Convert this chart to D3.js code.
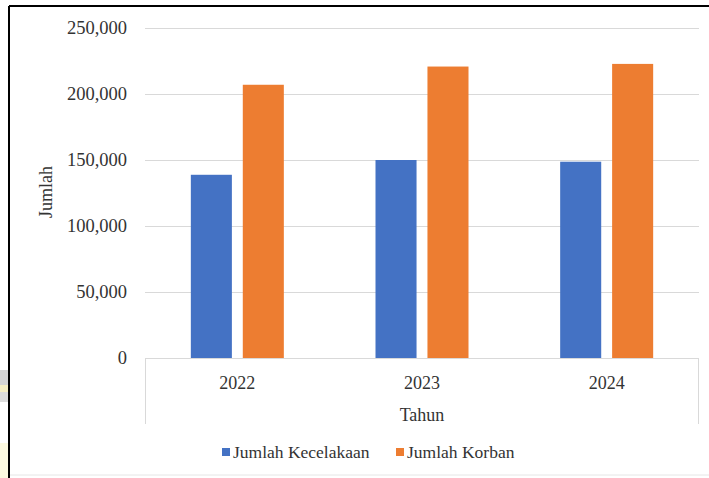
<!DOCTYPE html>
<html>
<head>
<meta charset="utf-8">
<script src="https://cdn.jsdelivr.net/npm/d3@7"></script>
<style>
  html, body { margin: 0; padding: 0; background: #fff; }
  svg { display: block; }
  text { font-family: "Liberation Serif", "Times New Roman", serif; fill: #333; }
</style>
</head>
<body>
<div class="d3"></div>
<script>
  // data
  const years = ['2022', '2023', '2024'];
  const series = ['Jumlah Kecelakaan', 'Jumlah Korban'];
  const kecelakaan = [138800, 150000, 148700];
  const korban = [207000, 220800, 222800];
  const yTicks = [0, 50000, 100000, 150000, 200000, 250000];
  const colors = ['#4472C4', '#ED7D31'];

  (() => {
    let width = 709;
    let height = 478;

    let svg = d3.select('.d3')
      .append('svg')
      .attr('width', width)
      .attr('height', height);

    // page leftovers outside the frame
    svg.append('rect').attr('x', 0).attr('y', 370).attr('width', 9).attr('height', 15).attr('fill', '#d4d4d4');
    svg.append('rect').attr('x', 0).attr('y', 385).attr('width', 9).attr('height', 7).attr('fill', '#f5eec4');
    svg.append('rect').attr('x', 0).attr('y', 392).attr('width', 9).attr('height', 10).attr('fill', '#dcdcdc');
    svg.append('rect').attr('x', 0).attr('y', 443).attr('width', 9).attr('height', 35).attr('fill', '#fcf9e0');

    // frame
    svg.append('line').attr('x1', 9).attr('x2', width).attr('y1', 6).attr('y2', 6)
      .attr('stroke', '#000').attr('stroke-width', 2);
    svg.append('line').attr('x1', 9).attr('x2', 9).attr('y1', 6).attr('y2', height)
      .attr('stroke', '#000').attr('stroke-width', 2);
    svg.append('line').attr('x1', 10).attr('x2', width).attr('y1', 475).attr('y2', 475)
      .attr('stroke', '#e6e6e6').attr('stroke-width', 1);

    let plotLeft = 145, plotRight = 699, plotTop = 28, plotBottom = 358;

    let x0 = d3.scaleBand().domain(years).range([plotLeft, plotRight]);
    let x1 = d3.scaleBand().domain(series)
      .range([x0.bandwidth() / 2 - 46.5, x0.bandwidth() / 2 + 46.5])
      .paddingInner(0.21);
    let y = d3.scaleLinear().domain([0, 250000]).range([plotBottom, plotTop]);

    // gridlines
    svg.append('g')
      .selectAll('line')
      .data(yTicks.filter(d => d > 0))
      .enter()
      .append('line')
      .attr('x1', plotLeft).attr('x2', plotRight)
      .attr('y1', d => Math.round(y(d)) + 0.5).attr('y2', d => Math.round(y(d)) + 0.5)
      .attr('stroke', '#d9d9d9');

    // y tick labels
    let fmt = d3.format(',');
    svg.append('g')
      .selectAll('text')
      .data(yTicks)
      .enter()
      .append('text')
      .attr('x', 127)
      .attr('y', d => y(d))
      .attr('dy', '0.34em')
      .attr('text-anchor', 'end')
      .attr('font-size', 18.5)
      .text(d => fmt(d));

    // bars
    let rows = years.map((yr, i) => ({ year: yr, values: [kecelakaan[i], korban[i]] }));
    let groups = svg.append('g')
      .selectAll('g')
      .data(rows)
      .enter()
      .append('g')
      .attr('transform', d => 'translate(' + x0(d.year) + ',0)');

    groups.selectAll('rect')
      .data(d => d.values.map((v, j) => ({ key: series[j], value: v, j: j })))
      .enter()
      .append('rect')
      .attr('x', d => x1(d.key))
      .attr('width', x1.bandwidth())
      .attr('y', d => y(d.value))
      .attr('height', d => plotBottom - y(d.value))
      .attr('fill', d => colors[d.j]);

    // category axis (multi-level box)
    let axis = svg.append('g').attr('stroke', '#d9d9d9').attr('fill', 'none');
    axis.append('line').attr('x1', plotLeft).attr('x2', plotRight).attr('y1', plotBottom + 0.5).attr('y2', plotBottom + 0.5);
    axis.append('line').attr('x1', plotLeft + 0.5).attr('x2', plotLeft + 0.5).attr('y1', plotBottom).attr('y2', 424);
    axis.append('line').attr('x1', plotRight - 0.5).attr('x2', plotRight - 0.5).attr('y1', plotBottom).attr('y2', 424);

    svg.append('g')
      .selectAll('text')
      .data(years)
      .enter()
      .append('text')
      .attr('x', d => x0(d) + x0.bandwidth() / 2)
      .attr('y', 389)
      .attr('text-anchor', 'middle')
      .attr('font-size', 18)
      .text(d => d);

    svg.append('text')
      .attr('x', (plotLeft + plotRight) / 2)
      .attr('y', 421)
      .attr('text-anchor', 'middle')
      .attr('font-size', 18)
      .text('Tahun');

    svg.append('text')
      .attr('transform', 'translate(52,192) rotate(-90)')
      .attr('text-anchor', 'middle')
      .attr('font-size', 18)
      .text('Jumlah');

    // legend
    let legendX = [222, 396];
    let legend = svg.append('g')
      .selectAll('g')
      .data(series)
      .enter()
      .append('g')
      .attr('transform', (d, i) => 'translate(' + legendX[i] + ',448)');
    legend.append('rect')
      .attr('width', 8).attr('height', 8)
      .attr('fill', (d, i) => colors[i]);
    legend.append('text')
      .attr('x', 11)
      .attr('y', 10)
      .attr('font-size', 17.5)
      .text(d => d);
  })();
</script>
</body>
</html>
